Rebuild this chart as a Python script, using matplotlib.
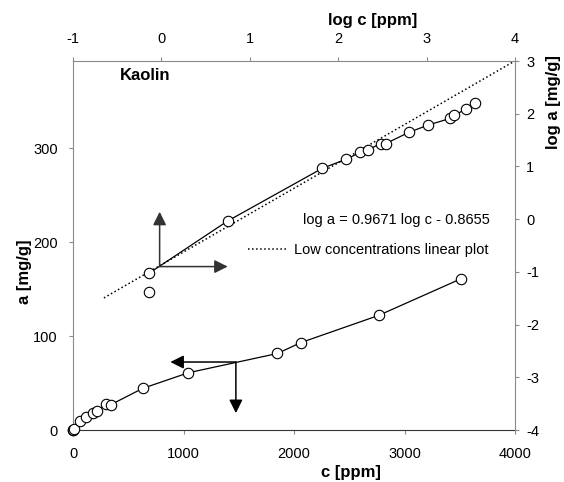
import numpy as np
import matplotlib
matplotlib.use("Agg")
import matplotlib.pyplot as plt

plt.rcParams['font.family'] = ['Liberation Sans', 'DejaVu Sans']
plt.rcParams['axes.unicode_minus'] = False

# adsorption data, Kaolin (c in ppm, a in mg/g)
c_ppm = [0.73, 0.73, 5.6, 66, 122, 178, 215, 303, 343, 630, 1045, 1850, 2060, 2765, 3510]
a_mgg = [0.042, 0.095, 0.92, 9.2, 13.6, 18.5, 20.5, 27.2, 27.0, 44.3, 61.0, 81.5, 93.0, 122.0, 161.0]
outlier = 0  # not joined by the line

# low concentration linear fit in log-log
fit_slope = 0.9671
fit_intercept = -0.8655
fit_logc_range = [-0.65, 4.0]

# arrows showing which axes each curve belongs to
lin_arrow_origin = (1474, 72.4)
lin_arrow_left = 881
lin_arrow_down = 18
log_arrow_origin = (-0.02, -0.9)
log_arrow_right = 0.75
log_arrow_up = 0.14

c = np.array(c_ppm)
a = np.array(a_mgg)
logc = np.log10(c)
loga = np.log10(a)
keep = np.arange(len(c)) != outlier

fig = plt.figure(figsize=(5.64, 4.82), dpi=100)
pos = [73 / 564, 1 - 430 / 482, 442 / 564, 369 / 482]
ax = fig.add_axes(pos)
ax2 = fig.add_axes(pos)
ax2.patch.set_visible(False)

grey = '#8a8a8a'
fs = 10.5

# ---------- linear plot (bottom / left)
ax.plot(c[keep], a[keep], '-', color='black', lw=0.9, zorder=2)
ax.plot(c, a, 'o', mfc='white', mec='black', ms=7.5, mew=0.8, zorder=3, clip_on=False)
ax.set_xlim(0, 4000)
ax.set_ylim(0, 393)
ax.set_xticks([0, 1000, 2000, 3000, 4000])
ax.set_yticks([0, 100, 200, 300])
ax.spines['top'].set_visible(False)
ax.spines['right'].set_visible(False)
ax.spines['left'].set_color(grey)
ax.spines['bottom'].set_color('#333333')
ax.tick_params(axis='x', length=3, pad=9, labelsize=fs, color=grey)
ax.tick_params(axis='y', length=3, pad=8, labelsize=fs, color=grey)
ax.set_xlabel('c [ppm]', fontsize=12, fontweight='bold', va='center')
ax.xaxis.set_label_coords(0.629, -0.114)
ax.set_ylabel('a [mg/g]', fontsize=12, fontweight='bold', va='center')
ax.yaxis.set_label_coords(-0.109, 0.428)

ax.annotate('', xy=(lin_arrow_left, lin_arrow_origin[1]), xytext=lin_arrow_origin,
            arrowprops=dict(arrowstyle='-|>', color='black', lw=1.1,
                            mutation_scale=20, shrinkA=0, shrinkB=0))
ax.annotate('', xy=(lin_arrow_origin[0], lin_arrow_down), xytext=lin_arrow_origin,
            arrowprops=dict(arrowstyle='-|>', color='black', lw=1.1,
                            mutation_scale=20, shrinkA=0, shrinkB=0))

ax.text(120 / 564, 1 - 75 / 482, 'Kaolin', transform=fig.transFigure,
        fontsize=12, fontweight='bold', va='center', ha='left')

# ---------- log-log plot (top / right)
fx = np.array(fit_logc_range)
line_fit, = ax2.plot(fx, fit_slope * fx + fit_intercept, ':', color='black', lw=1.1,
                     label='Low concentrations linear plot', zorder=2)
ax2.plot(logc[keep], loga[keep], '-', color='black', lw=0.9, zorder=2)
ax2.plot(logc, loga, 'o', mfc='white', mec='black', ms=7.5, mew=0.8, zorder=3)
ax2.set_xlim(-1, 4)
ax2.set_ylim(-4, 3)
ax2.set_xticks(range(-1, 5))
ax2.set_yticks(range(-4, 4))
ax2.xaxis.tick_top()
ax2.yaxis.tick_right()
ax2.xaxis.set_label_position('top')
ax2.yaxis.set_label_position('right')
ax2.spines['bottom'].set_visible(False)
ax2.spines['left'].set_visible(False)
ax2.spines['top'].set_color(grey)
ax2.spines['right'].set_color(grey)
ax2.tick_params(axis='x', length=3, pad=8, labelsize=fs, color=grey)
ax2.tick_params(axis='y', length=3, pad=5, labelsize=fs, color=grey)
ax2.set_xlabel('log c [ppm]', fontsize=12, fontweight='bold', va='center')
ax2.xaxis.set_label_coords(0.679, 1.111)
ax2.set_ylabel('log a [mg/g]', fontsize=12, fontweight='bold', va='center')
ax2.yaxis.set_label_coords(1.086, 0.89)

ax2.annotate('', xy=(log_arrow_right, log_arrow_origin[1]), xytext=log_arrow_origin,
             arrowprops=dict(arrowstyle='-|>', color='#333333', lw=1.1,
                             mutation_scale=20, shrinkA=0, shrinkB=0))
ax2.annotate('', xy=(log_arrow_origin[0], log_arrow_up), xytext=log_arrow_origin,
             arrowprops=dict(arrowstyle='-|>', color='#333333', lw=1.1,
                             mutation_scale=20, shrinkA=0, shrinkB=0))

ax2.text(0.520, 0.569, 'log a = %.4f log c - %.4f' % (fit_slope, -fit_intercept),
         transform=ax2.transAxes, fontsize=fs, va='center', ha='left')
ax2.legend(handles=[line_fit], loc='center left', frameon=False, fontsize=fs,
           bbox_to_anchor=(248 / 564, 1 - 250 / 482), bbox_transform=fig.transFigure,
           borderpad=0, borderaxespad=0, handlelength=2.67, handletextpad=0.48)

fig.savefig('out.png', dpi=100)
